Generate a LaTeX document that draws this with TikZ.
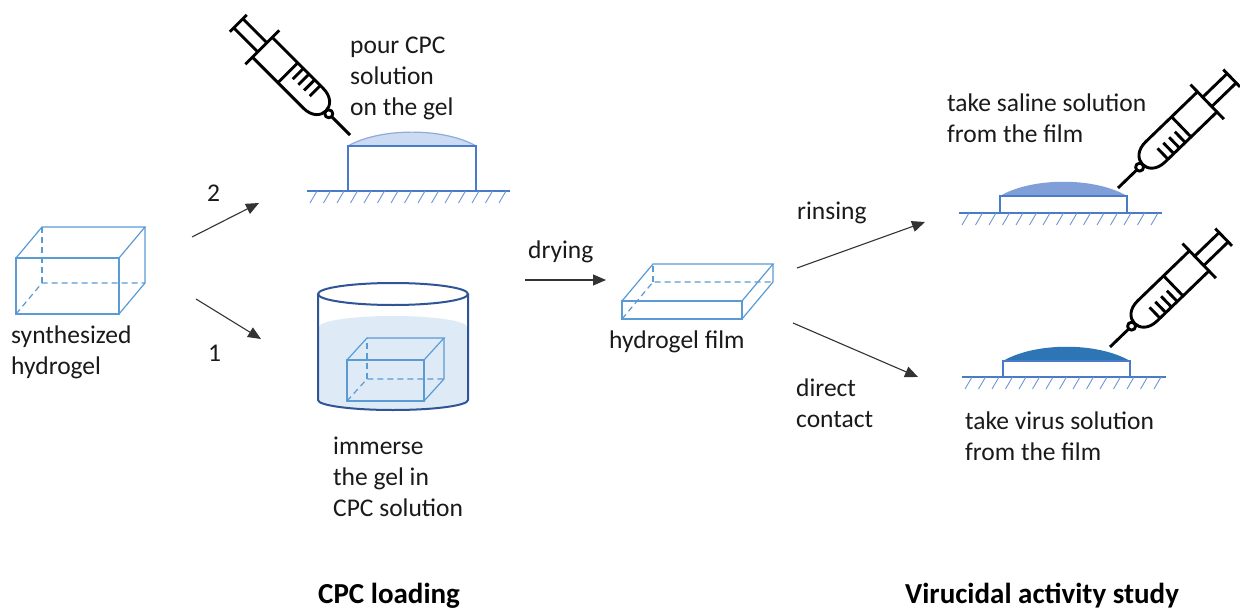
\documentclass[tikz,border=0pt]{standalone}
\usepackage{fontspec}
\setmainfont{Carlito}
\usetikzlibrary{arrows.meta,calc}

\definecolor{gelline}{HTML}{5B9BD5}
\definecolor{groundc}{HTML}{4A7BC8}
\definecolor{hatchc}{HTML}{6E95D8}
\definecolor{beaker}{HTML}{2F5597}
\definecolor{liquid}{HTML}{DEEBF7}
\definecolor{cpcdrop}{HTML}{CBDBF2}
\definecolor{cpcedge}{HTML}{8FAADC}
\definecolor{salinedrop}{HTML}{809FD8}
\definecolor{virusdrop}{HTML}{2E75B6}
\definecolor{txt}{HTML}{1A1A1A}

% gel block: front face corners (x1,y1)-(x2,y2), depth offset (dx,dy)
\newcommand\gelblock[6]{%
  \draw[gedge] (#1,#2) rectangle (#3,#4);
  \draw[gedge] (#1,#2) -- ++(#5,#6) -- ($(#3,#2)+(#5,#6)$) -- (#3,#2);
  \draw[gedge] ($(#3,#2)+(#5,#6)$) -- ($(#3,#4)+(#5,#6)$) -- (#3,#4);
  \draw[ghidden] (#1,#4) -- ++(#5,#6) -- ($(#3,#4)+(#5,#6)$);
  \draw[ghidden] ($(#1,#4)+(#5,#6)$) -- ($(#1,#2)+(#5,#6)$);
}
% hatched support surface from x1 to x2 at height y
\newcommand\support[3]{%
  \draw[groundline] (#1,#3) -- (#2,#3);
  \foreach \k in {0,...,14} \draw[hatchline] (#1+3+\k*13.5,#3+12) -- ++(7,-12);
}

% syringe drawn along its axis: needle tip at the origin, plunger cap at x=158
\tikzset{
  syringe/.pic={
    \draw[syr] (0,0) -- (26,0);
    \draw[syr] (30,0) circle[radius=4];
    \draw[syr] (124,14) -- (52,14) .. controls (40,14) and (34,7) .. (34,0)
               .. controls (34,-7) and (40,-14) .. (52,-14) -- (124,-14);
    \draw[syr] (88,-14) -- (88,14);
    \foreach \t in {56,64,72,80} \draw[syr] (\t,14) -- (\t,-1);
    \draw[syr] (124,-24) -- (124,24);
    \draw[syr] (124,6.5) -- (158,6.5) (124,-6.5) -- (158,-6.5);
    \draw[syr] (158,-12) -- (158,12);
  }
}

\begin{document}
\begin{tikzpicture}[x=1pt,y=-1pt,
  lbl/.style={font=\fontsize{25.5}{31}\selectfont, align=left, inner sep=0pt, anchor=west, text=txt},
  ttl/.style={font=\fontsize{29}{34}\selectfont\bfseries, inner sep=0pt, anchor=west, text=black},
  flow/.style={draw=black!80, line width=1.1pt, -{Triangle[length=13pt,width=11pt]}},
  gedge/.style={gelline, line width=1.2pt},
  ghidden/.style={gedge, dash pattern=on 6pt off 4pt},
  groundline/.style={groundc, line width=1.2pt},
  hatchline/.style={hatchc, line width=0.9pt},
  syr/.style={line width=2.9pt, black, line join=round}]

\useasboundingbox[fill=white] (0,0) rectangle (1240,610);

% ---------- synthesized hydrogel ----------
\gelblock{16}{258}{119}{314}{26}{-31}
\node[lbl] (synth) at (11,352.5) {synthesized\\hydrogel};

% ---------- route 2: pour CPC solution ----------
\fill[cpcdrop] (348,146) .. controls (380,127.5) and (444,127.5) .. (476,146) -- cycle;
\draw[cpcedge, line width=1.2pt] (348,146) .. controls (380,127.5) and (444,127.5) .. (476,146);
\draw[groundline] (348,191) -- (348,146) -- (476,146) -- (476,191);
\support{307}{510}{191}
\pic (syrA) [rotate=135] at (350,135) {syringe};
\node[lbl] (pour) at (350,78) {pour CPC\\solution\\on the gel};

% ---------- route 1: immerse in CPC solution ----------
\fill[liquid] (319,327) arc[start angle=180,end angle=360,x radius=74,y radius=11]
  -- (467,400) arc[start angle=0,end angle=180,x radius=74,y radius=10] -- cycle;
\gelblock{347}{360}{424}{401}{20}{-22}
\draw[beaker, line width=2pt] (393,294) ellipse[x radius=75,y radius=11];
\draw[beaker, line width=2pt] (318,294) -- (318,400)
  arc[start angle=180,end angle=0,x radius=75,y radius=10] -- (468,294);
\node[lbl] (immerse) at (333,477) {immerse\\the gel in\\CPC solution};

% ---------- hydrogel film ----------
\gelblock{622}{301}{742}{319}{31}{-37}
\node[lbl] (film) at (609,342) {hydrogel film};

% ---------- rinsing: saline on the film ----------
\fill[salinedrop] (1000,196) .. controls (1032,177) and (1095,177) .. (1127,196) -- cycle;
\draw[groundline] (1000,213) -- (1000,196) -- (1127,196) -- (1127,213);
\support{959}{1162}{213}
\pic (syrB) [rotate=44] at (1118,188) {syringe};
\node[lbl] (saline) at (947,118.5) {take saline solution\\from the film};

% ---------- direct contact: virus on the film ----------
\fill[virusdrop] (1003,361) .. controls (1035,342) and (1098,342) .. (1130,361) -- cycle;
\draw[groundline] (1003,377) -- (1003,361) -- (1130,361) -- (1130,377);
\support{962}{1166}{377}
\pic (syrC) [rotate=44] at (1110,347) {syringe};
\node[lbl] (virus) at (965,436.5) {take virus solution\\from the film};

% ---------- process arrows ----------
\coordinate (twoS) at (192,237);  \coordinate (twoE) at (259,203);
\coordinate (oneS) at (196,299);  \coordinate (oneE) at (261,339);
\coordinate (dryS) at (525,280);  \coordinate (dryE) at (606,280);
\coordinate (rinS) at (797,268);  \coordinate (rinE) at (925,222);
\coordinate (dirS) at (793,323);  \coordinate (dirE) at (918,377);
\draw[flow] (twoS) -- (twoE);
\draw[flow] (oneS) -- (oneE);
\draw[flow] (dryS) -- (dryE);
\draw[flow] (rinS) -- (rinE);
\draw[flow] (dirS) -- (dirE);

\node[lbl] (two) at (207,193) {2};
\node[lbl] (one) at (208,353) {1};
\node[lbl] (drying) at (528,252) {drying};
\node[lbl] (rinsing) at (797,213) {rinsing};
\node[lbl] (direct) at (796,403.5) {direct\\contact};

% ---------- section titles ----------
\node[ttl] (loading) at (318,596) {CPC loading};
\node[ttl] (virucidal) at (905,596) {Virucidal activity study};
\end{tikzpicture}
\end{document}
